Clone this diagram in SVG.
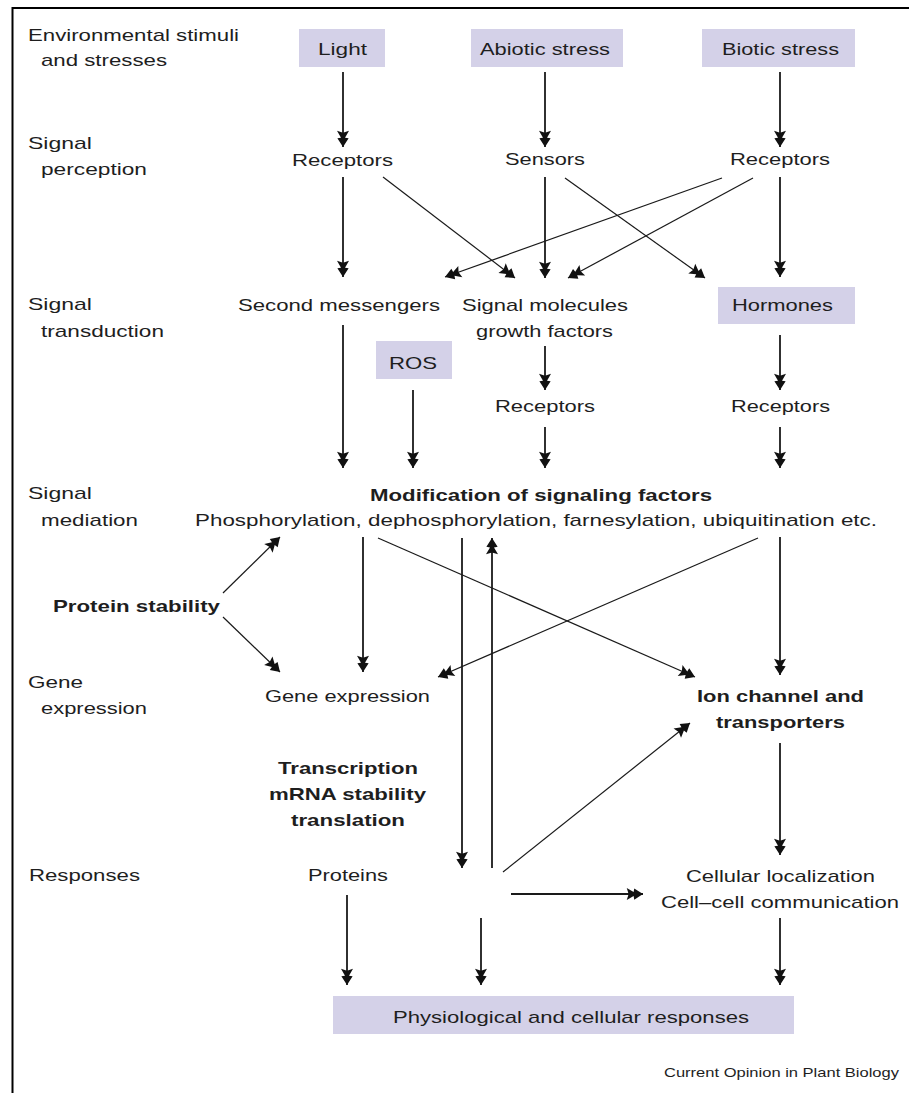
<svg xmlns="http://www.w3.org/2000/svg" width="909" height="1093" viewBox="0 0 909 1093">
<style>
  text { font-family: "Liberation Sans", Arial, sans-serif; font-size: 17px; fill: #1e1e1e; }
  .b { font-weight: bold; }
  .box { fill: #d4d1e8; }
  .lbl { }
  .c line { stroke: #1a1a1a; stroke-width: 1.8; marker-end: url(#ah); }
  .c line.d { stroke-width: 1.2; }
  .c line.n { marker-end: none; }
  .frame { stroke: #000; stroke-width: 2; fill: none; }
  .cap { font-size: 13px; }
</style>
<defs>
  <marker id="ah" markerUnits="userSpaceOnUse" markerWidth="20" markerHeight="20" viewBox="-15 -7 16 14" refX="0" refY="0" orient="auto">
    <path d="M0,0 L-7,-4.5 L-7.5,-1.6 L-13,-4.8 L-11.5,0 L-13,4.8 L-7.5,1.6 L-7,4.5 Z" fill="#111"/>
  </marker>
</defs>
<rect width="909" height="1093" fill="#fff"/>
<path class="frame" d="M12.5,1093 V8 H909"/>

<g id="row-labels">
  <text x="28" y="41" textLength="211" lengthAdjust="spacingAndGlyphs">Environmental stimuli</text>
  <text x="41" y="66" textLength="126" lengthAdjust="spacingAndGlyphs">and stresses</text>
  <text x="28" y="149" textLength="64" lengthAdjust="spacingAndGlyphs">Signal</text>
  <text x="41" y="175" textLength="106" lengthAdjust="spacingAndGlyphs">perception</text>
  <text x="28" y="310" textLength="64" lengthAdjust="spacingAndGlyphs">Signal</text>
  <text x="41" y="337" textLength="123" lengthAdjust="spacingAndGlyphs">transduction</text>
  <text x="28" y="499" textLength="64" lengthAdjust="spacingAndGlyphs">Signal</text>
  <text x="41" y="526" textLength="97" lengthAdjust="spacingAndGlyphs">mediation</text>
  <text x="28" y="688" textLength="55" lengthAdjust="spacingAndGlyphs">Gene</text>
  <text x="41" y="714" textLength="106" lengthAdjust="spacingAndGlyphs">expression</text>
  <text x="29" y="881" textLength="111" lengthAdjust="spacingAndGlyphs">Responses</text>
</g>

<g id="light"><rect class="box" x="299" y="29" width="86" height="38"/><text x="318" y="55" textLength="49" lengthAdjust="spacingAndGlyphs">Light</text></g>
<g id="abiotic"><rect class="box" x="471" y="29" width="152" height="38"/><text x="480" y="55" textLength="130" lengthAdjust="spacingAndGlyphs">Abiotic stress</text></g>
<g id="biotic"><rect class="box" x="702" y="29" width="153" height="38"/><text x="722" y="55" textLength="117" lengthAdjust="spacingAndGlyphs">Biotic stress</text></g>

<g id="receptors-l"><text x="292" y="166" textLength="101" lengthAdjust="spacingAndGlyphs">Receptors</text></g>
<g id="sensors"><text x="505" y="165" textLength="80" lengthAdjust="spacingAndGlyphs">Sensors</text></g>
<g id="receptors-r"><text x="730" y="165" textLength="100" lengthAdjust="spacingAndGlyphs">Receptors</text></g>

<g id="second-messengers"><text x="238" y="311" textLength="202" lengthAdjust="spacingAndGlyphs">Second messengers</text></g>
<g id="signal-molecules"><text x="462" y="311" textLength="166" lengthAdjust="spacingAndGlyphs">Signal molecules</text><text x="476" y="337" textLength="137" lengthAdjust="spacingAndGlyphs">growth factors</text></g>
<g id="hormones"><rect class="box" x="718" y="287" width="137" height="37"/><text x="732" y="311" textLength="101" lengthAdjust="spacingAndGlyphs">Hormones</text></g>
<g id="ros"><rect class="box" x="376" y="341" width="76" height="38"/><text x="389" y="369" textLength="48" lengthAdjust="spacingAndGlyphs">ROS</text></g>
<g id="receptors-m2"><text x="495" y="412" textLength="100" lengthAdjust="spacingAndGlyphs">Receptors</text></g>
<g id="receptors-r2"><text x="731" y="412" textLength="99" lengthAdjust="spacingAndGlyphs">Receptors</text></g>

<g id="modification">
  <text class="b" x="370" y="501" textLength="342" lengthAdjust="spacingAndGlyphs">Modification of signaling factors</text>
  <text x="195" y="526" textLength="682" lengthAdjust="spacingAndGlyphs">Phosphorylation, dephosphorylation, farnesylation, ubiquitination etc.</text>
</g>
<g id="protein-stability"><text class="b" x="53" y="612" textLength="167" lengthAdjust="spacingAndGlyphs">Protein stability</text></g>
<g id="gene-expression"><text x="265" y="702" textLength="165" lengthAdjust="spacingAndGlyphs">Gene expression</text></g>
<g id="ion-channel"><text class="b" x="697" y="702" textLength="167" lengthAdjust="spacingAndGlyphs">Ion channel and</text><text class="b" x="716" y="728" textLength="129" lengthAdjust="spacingAndGlyphs">transporters</text></g>
<g id="transcription">
  <text class="b" x="278" y="774" textLength="140" lengthAdjust="spacingAndGlyphs">Transcription</text>
  <text class="b" x="269" y="800" textLength="157" lengthAdjust="spacingAndGlyphs">mRNA stability</text>
  <text class="b" x="291" y="826" textLength="114" lengthAdjust="spacingAndGlyphs">translation</text>
</g>
<g id="proteins"><text x="308" y="881" textLength="80" lengthAdjust="spacingAndGlyphs">Proteins</text></g>
<g id="cellular"><text x="686" y="882" textLength="189" lengthAdjust="spacingAndGlyphs">Cellular localization</text><text x="661" y="908" textLength="238" lengthAdjust="spacingAndGlyphs">Cell–cell communication</text></g>
<g id="responses"><rect class="box" x="333" y="996" width="461" height="38"/><text x="393" y="1023" textLength="356" lengthAdjust="spacingAndGlyphs">Physiological and cellular responses</text></g>
<g id="credit"><text class="cap" x="664" y="1077" textLength="235" lengthAdjust="spacingAndGlyphs">Current Opinion in Plant Biology</text></g>

<g id="connectors" class="c">
  <line x1="343" y1="72" x2="343" y2="147"/>
  <line x1="545" y1="72" x2="545" y2="147"/>
  <line x1="780" y1="72" x2="780" y2="147"/>
  <line x1="343" y1="177" x2="343" y2="277"/>
  <line class="d" x1="383" y1="177" x2="515" y2="278"/>
  <line x1="545" y1="177" x2="545" y2="278"/>
  <line class="d" x1="565" y1="178" x2="705" y2="278"/>
  <line class="d" x1="722" y1="178" x2="445" y2="277"/>
  <line class="d" x1="753" y1="178" x2="568" y2="278"/>
  <line x1="780" y1="177" x2="780" y2="277"/>
  <line x1="343" y1="325" x2="343" y2="468"/>
  <line x1="413" y1="390" x2="413" y2="468"/>
  <line x1="545" y1="346" x2="545" y2="390"/>
  <line x1="780" y1="335" x2="780" y2="390"/>
  <line x1="545" y1="427" x2="545" y2="468"/>
  <line x1="780" y1="427" x2="780" y2="468"/>
  <line class="d" x1="223" y1="593" x2="280" y2="537"/>
  <line class="d" x1="223" y1="617" x2="280" y2="672"/>
  <line x1="363" y1="537" x2="363" y2="672"/>
  <line class="d" x1="378" y1="538" x2="695" y2="677"/>
  <line class="d" x1="758" y1="538" x2="438" y2="677"/>
  <line x1="780" y1="537" x2="780" y2="675"/>
  <line x1="462" y1="538" x2="462" y2="868"/>
  <line x1="492" y1="868" x2="492" y2="538"/>
  <line class="d" x1="503" y1="872" x2="690" y2="723"/>
  <line x1="780" y1="743" x2="780" y2="855"/>
  <line x1="511" y1="894" x2="643" y2="894"/>
  <line x1="347" y1="895" x2="347" y2="985"/>
  <line x1="481" y1="918" x2="481" y2="985"/>
  <line x1="780" y1="918" x2="780" y2="985"/>
</g>
</svg>
